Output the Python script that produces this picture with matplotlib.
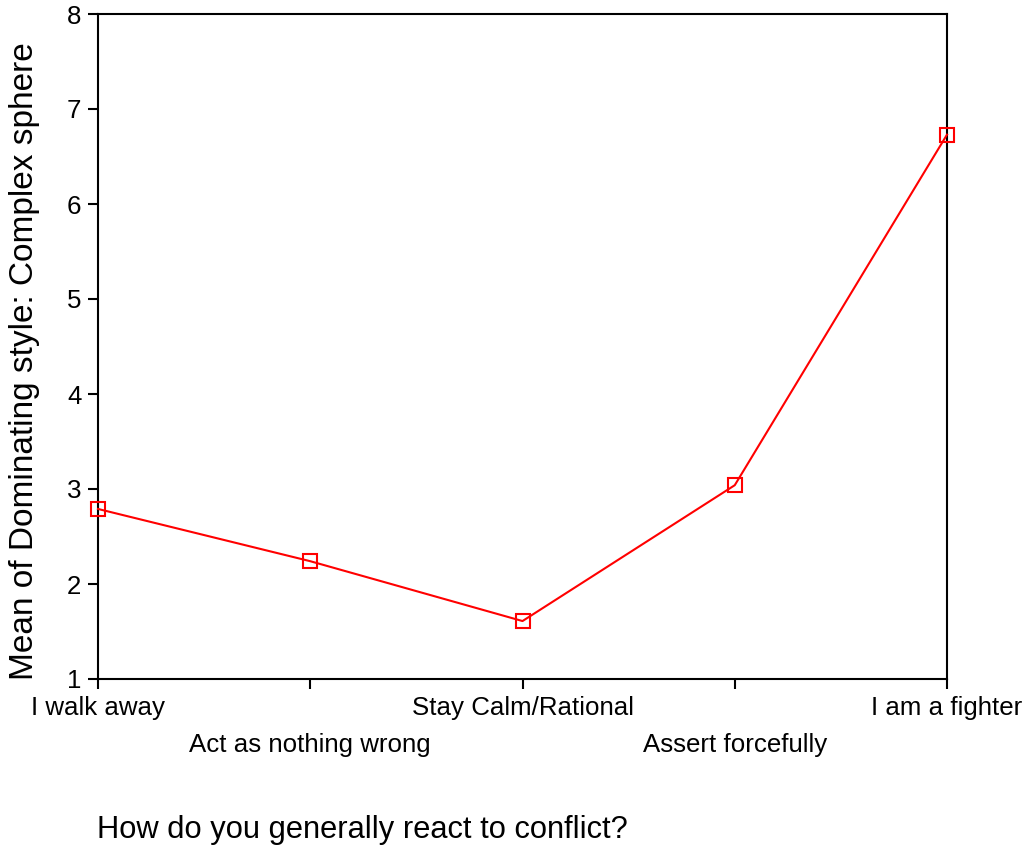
import matplotlib
matplotlib.use("Agg")
import matplotlib.pyplot as plt

categories = ["I walk away", "Act as nothing wrong", "Stay Calm/Rational",
              "Assert forcefully", "I am a fighter"]
means = [2.79, 2.24, 1.61, 3.04, 6.73]
yticks = [1, 2, 3, 4, 5, 6, 7, 8]

plt.rcParams['font.family'] = ['Liberation Sans', 'DejaVu Sans']

fig = plt.figure(figsize=(10.29, 8.48), dpi=100)
ax = fig.add_axes([98/1029, 1-679/848, (947-98)/1029, (679-14)/848])

x = list(range(len(categories)))
ax.plot(x, means, color='#ff0000', lw=1.5, marker='s', markersize=10,
        markerfacecolor='none', markeredgecolor='#ff0000', markeredgewidth=1.5,
        clip_on=False, zorder=5)

ax.set_xlim(0, len(categories) - 1)
ax.set_ylim(1, 8)
ax.set_yticks(yticks)
ax.set_yticklabels([str(v) for v in yticks])
ax.set_xticks(x)
labels = [c if i % 2 == 0 else "\n" + c for i, c in enumerate(categories)]
ax.set_xticklabels(labels, linespacing=1.7)
ax.tick_params(axis='both', direction='out', length=7, width=1.5, labelsize=18.6, pad=5)
for s in ax.spines.values():
    s.set_linewidth(1.5)

fig.text(25/1029, 1-680/848, "Mean of Dominating style: Complex sphere",
         rotation=90, ha='center', va='bottom', fontsize=24)
fig.text(97/1029, 1-830/848, "How do you generally react to conflict?",
         ha='left', va='center', fontsize=22.2)

fig.savefig("out.png", dpi=100)
